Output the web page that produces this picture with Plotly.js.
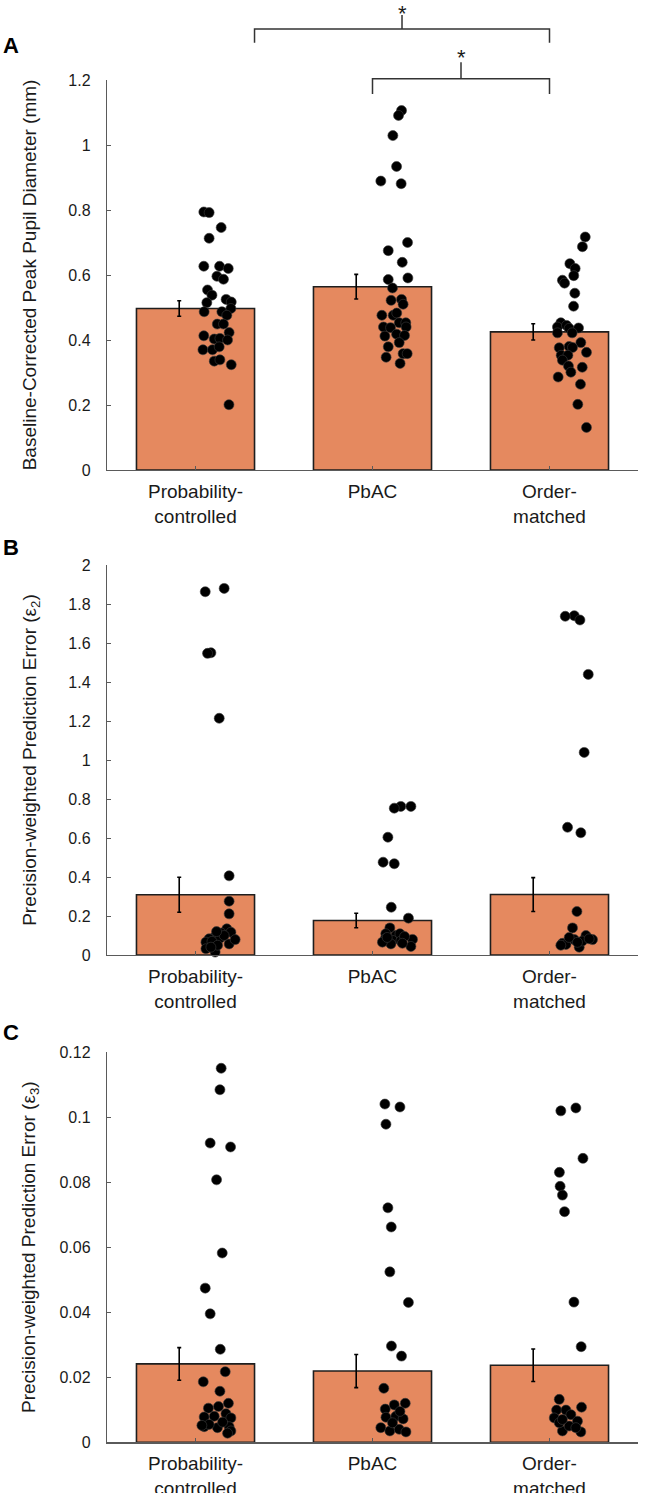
<!DOCTYPE html>
<html>
<head>
<meta charset="utf-8">
<script src="https://cdn.plot.ly/plotly-3.0.1.min.js"></script>
<style>
  html, body { margin: 0; padding: 0; background: #fff; }
  #chart { width: 646px; height: 1493px; }
</style>
</head>
<body>
<div id="chart"></div>
<script>
// ---- categories ----
const categories = ['Probability-<br>controlled', 'PbAC', 'Order-<br>matched'];

// ---- Panel A: baseline-corrected peak pupil diameter (mm) ----
const meanA = [0.497, 0.564, 0.425];
const semA  = [0.024, 0.038, 0.025];
const pupilProb  = [0.794, 0.792, 0.746, 0.713, 0.627, 0.627, 0.620, 0.596, 0.587, 0.554, 0.538, 0.515, 0.525, 0.517, 0.487, 0.487, 0.497, 0.476, 0.449, 0.449, 0.413, 0.403, 0.423, 0.405, 0.400, 0.370, 0.370, 0.379, 0.335, 0.339, 0.324, 0.201];
const pupilPbac  = [1.106, 1.091, 1.029, 0.934, 0.889, 0.881, 0.700, 0.675, 0.639, 0.591, 0.586, 0.560, 0.525, 0.522, 0.510, 0.476, 0.476, 0.483, 0.453, 0.453, 0.440, 0.438, 0.440, 0.412, 0.418, 0.414, 0.392, 0.379, 0.358, 0.358, 0.347, 0.328];
const pupilOrder = [0.717, 0.687, 0.635, 0.620, 0.598, 0.584, 0.575, 0.544, 0.504, 0.453, 0.440, 0.445, 0.436, 0.437, 0.422, 0.422, 0.392, 0.376, 0.380, 0.377, 0.362, 0.353, 0.353, 0.338, 0.320, 0.316, 0.301, 0.286, 0.264, 0.202, 0.131];

// ---- Panel B: precision-weighted prediction error (epsilon 2) ----
const meanB = [0.309, 0.177, 0.310];
const semB  = [0.090, 0.037, 0.087];
const eps2Prob  = [1.880, 1.863, 1.550, 1.547, 1.214, 0.406, 0.276, 0.211, 0.134, 0.117, 0.113, 0.091, 0.083, 0.066, 0.066, 0.057, 0.079, 0.032, 0.015, 0.086, 0.100, 0.070, 0.050, 0.040, 0.120];
const eps2Pbac  = [0.762, 0.762, 0.753, 0.604, 0.476, 0.468, 0.245, 0.189, 0.139, 0.109, 0.100, 0.109, 0.083, 0.075, 0.072, 0.080, 0.095, 0.057, 0.044, 0.066, 0.060, 0.090];
const eps2Order = [1.740, 1.737, 1.718, 1.439, 1.039, 0.655, 0.627, 0.223, 0.139, 0.060, 0.079, 0.040, 0.100, 0.079, 0.054, 0.072, 0.083, 0.090, 0.065, 0.050];

// ---- Panel C: precision-weighted prediction error (epsilon 3) ----
const meanC = [0.0241, 0.0219, 0.0237];
const semC  = [0.0050, 0.0051, 0.0050];
const eps3Prob  = [0.1150, 0.1084, 0.0920, 0.0908, 0.0807, 0.0582, 0.0474, 0.0395, 0.0286, 0.0217, 0.0186, 0.0157, 0.0105, 0.0110, 0.0120, 0.0078, 0.0080, 0.0088, 0.0075, 0.0048, 0.0045, 0.0048, 0.0035, 0.0055, 0.0028, 0.0062, 0.0052];
const eps3Pbac  = [0.1040, 0.1031, 0.0978, 0.0721, 0.0662, 0.0524, 0.0430, 0.0296, 0.0265, 0.0166, 0.0102, 0.0115, 0.0120, 0.0077, 0.0080, 0.0072, 0.0045, 0.0035, 0.0040, 0.0032, 0.0060, 0.0095];
const eps3Order = [0.1028, 0.1019, 0.0873, 0.0830, 0.0787, 0.0760, 0.0709, 0.0431, 0.0294, 0.0132, 0.0099, 0.0099, 0.0108, 0.0075, 0.0085, 0.0065, 0.0035, 0.0032, 0.0050, 0.0060, 0.0070, 0.0045];

// ---- horizontal scatter of each participant's dot, right of the bar centre (category units) ----
const jitPupilProb  = [0.047, 0.077, 0.145, 0.077, 0.047, 0.136, 0.185, 0.121, 0.158, 0.068, 0.093, 0.064, 0.173, 0.202, 0.049, 0.149, 0.200, 0.177, 0.123, 0.158, 0.047, 0.106, 0.190, 0.138, 0.181, 0.042, 0.096, 0.134, 0.106, 0.138, 0.202, 0.189];
const jitPupilPbac  = [0.164, 0.147, 0.115, 0.136, 0.047, 0.162, 0.198, 0.089, 0.168, 0.200, 0.089, 0.113, 0.164, 0.105, 0.173, 0.053, 0.117, 0.137, 0.151, 0.188, 0.062, 0.102, 0.190, 0.070, 0.136, 0.181, 0.151, 0.089, 0.173, 0.196, 0.077, 0.156];
const jitPupilOrder = [0.202, 0.186, 0.115, 0.145, 0.137, 0.073, 0.085, 0.143, 0.136, 0.064, 0.045, 0.096, 0.111, 0.164, 0.045, 0.128, 0.177, 0.055, 0.111, 0.130, 0.209, 0.066, 0.104, 0.073, 0.107, 0.185, 0.121, 0.049, 0.175, 0.160, 0.209];
const jitEps2Prob   = [0.162, 0.055, 0.087, 0.068, 0.134, 0.190, 0.190, 0.190, 0.177, 0.200, 0.145, 0.106, 0.077, 0.059, 0.115, 0.190, 0.224, 0.059, 0.111, 0.138, 0.162, 0.093, 0.125, 0.087, 0.119];
const jitEps2Pbac   = [0.160, 0.217, 0.123, 0.087, 0.060, 0.123, 0.106, 0.203, 0.098, 0.075, 0.132, 0.155, 0.072, 0.113, 0.160, 0.226, 0.181, 0.104, 0.217, 0.056, 0.169, 0.083];
const jitEps2Order  = [0.140, 0.089, 0.172, 0.219, 0.196, 0.102, 0.177, 0.155, 0.130, 0.073, 0.140, 0.168, 0.206, 0.243, 0.093, 0.186, 0.224, 0.111, 0.158, 0.064];
const jitEps3Prob   = [0.145, 0.138, 0.083, 0.198, 0.119, 0.151, 0.055, 0.083, 0.140, 0.168, 0.044, 0.138, 0.073, 0.130, 0.186, 0.049, 0.106, 0.172, 0.200, 0.049, 0.124, 0.190, 0.200, 0.077, 0.181, 0.153, 0.036];
const jitEps3Pbac   = [0.070, 0.155, 0.076, 0.087, 0.106, 0.098, 0.203, 0.107, 0.164, 0.064, 0.072, 0.123, 0.185, 0.076, 0.132, 0.173, 0.047, 0.098, 0.151, 0.189, 0.113, 0.155];
const jitEps3Order  = [0.149, 0.064, 0.189, 0.056, 0.060, 0.073, 0.085, 0.138, 0.179, 0.055, 0.040, 0.093, 0.181, 0.027, 0.121, 0.158, 0.073, 0.177, 0.111, 0.055, 0.073, 0.149];

// ---- styling ----
const W = 646, H = 1493;
const FONT = 'Liberation Sans, Arial, Helvetica, sans-serif';
const BAR_FILL = '#E5895F';
const BAR_EDGE = '#1e1e1e';
const AXIS_GREY = '#5a5a5a';
const TEXT = '#1a1a1a';
const BAR_W = 0.667;
const ERR_SHIFT = -0.092;   // error bars sit a little left of the bar centre

// pixel helpers for paper coordinates
const px2x = p => p / W;
const px2y = p => 1 - p / H;

function panelTraces(suffix, means, sems, groups, jitters) {
  const xa = 'x' + suffix, ya = 'y' + suffix;
  const idx = categories.map((_, i) => i);
  const traces = [];
  traces.push({
    type: 'bar', x: idx, y: means, width: BAR_W, xaxis: xa, yaxis: ya,
    marker: { color: BAR_FILL, line: { color: BAR_EDGE, width: 1.6 } },
    hoverinfo: 'skip'
  });
  traces.push({
    type: 'scatter', mode: 'markers', x: idx.map(i => i + ERR_SHIFT), y: means,
    xaxis: xa, yaxis: ya, marker: { size: 1, opacity: 0 },
    error_y: { type: 'data', array: sems, visible: true, color: '#000', thickness: 1.6, width: 2 },
    hoverinfo: 'skip'
  });
  groups.forEach((vals, g) => {
    traces.push({
      type: 'scatter', mode: 'markers', xaxis: xa, yaxis: ya,
      x: jitters[g].map(j => g + j), y: vals,
      marker: { size: 10, color: '#000', line: { color: '#3a3a3a', width: 0.6 } },
      cliponaxis: false, hoverinfo: 'skip'
    });
  });
  return traces;
}

const data = [].concat(
  panelTraces('',  meanA, semA, [pupilProb, pupilPbac, pupilOrder], [jitPupilProb, jitPupilPbac, jitPupilOrder]),
  panelTraces('2', meanB, semB, [eps2Prob, eps2Pbac, eps2Order],   [jitEps2Prob, jitEps2Pbac, jitEps2Order]),
  panelTraces('3', meanC, semC, [eps3Prob, eps3Pbac, eps3Order],   [jitEps3Prob, jitEps3Pbac, jitEps3Order])
);

const xDomain = [px2x(107), px2x(638)];

function xAxis(anchor) {
  return {
    domain: xDomain, anchor: anchor, range: [-0.5, 2.5],
    tickmode: 'array', tickvals: [0, 1, 2], ticktext: categories,
    ticks: 'inside', ticklen: 4, tickwidth: 1, tickcolor: AXIS_GREY,
    showline: true, linecolor: AXIS_GREY, linewidth: 1.2,
    showgrid: false, zeroline: false, fixedrange: true,
    ticklabelstandoff: 4,
    tickfont: { family: FONT, size: 19, color: TEXT }
  };
}
function yAxis(anchor, topPx, botPx, range, dtick, title, standoff) {
  return {
    domain: [px2y(botPx), px2y(topPx)], anchor: anchor, range: range,
    dtick: dtick, tick0: 0,
    ticks: 'inside', ticklen: 4, tickwidth: 1, tickcolor: AXIS_GREY,
    showline: true, linecolor: AXIS_GREY, linewidth: 1.2,
    showgrid: false, zeroline: false, fixedrange: true,
    ticklabelstandoff: 12,
    tickfont: { family: FONT, size: 16, color: TEXT },
    title: { text: title, standoff: standoff, font: { family: FONT, size: 19, color: TEXT } }
  };
}

// significance brackets above panel A
const bracketLine = { color: '#333', width: 1.5 };
const brackets = [
  { x0: 0 + BAR_W / 2, x1: 2, yBar: 29, yLeg: 42.7, yTop: 15, starY: 0, starAnchor: 'top' },
  { x0: 1, x1: 2, yBar: 78.7, yLeg: 94, yTop: 62.3, starY: 57.8, starAnchor: 'middle' }
];
const shapes = [];
const annotations = [];
brackets.forEach(b => {
  const mid = (b.x0 + b.x1) / 2;
  shapes.push({
    type: 'path', xref: 'x', yref: 'paper', line: bracketLine,
    path: `M ${b.x0} ${px2y(b.yLeg)} L ${b.x0} ${px2y(b.yBar)} L ${b.x1} ${px2y(b.yBar)} L ${b.x1} ${px2y(b.yLeg)}`
  });
  shapes.push({
    type: 'line', xref: 'x', yref: 'paper', line: bracketLine,
    x0: mid, x1: mid, y0: px2y(b.yBar), y1: px2y(b.yTop)
  });
  annotations.push({
    xref: 'x', yref: 'paper', x: mid, y: px2y(b.starY),
    xanchor: 'center', yanchor: b.starAnchor, showarrow: false, borderpad: 0,
    text: '*', font: { family: FONT, size: 22, color: TEXT }
  });
});

// panel letters
[['A', 45], ['B', 547.5], ['C', 1032.5]].forEach(([t, yc]) => {
  annotations.push({
    xref: 'paper', yref: 'paper', x: px2x(1), y: px2y(yc),
    xanchor: 'left', yanchor: 'middle', showarrow: false,
    text: '<b>' + t + '</b>', font: { family: FONT, size: 22, color: '#000' }
  });
});

const layout = {
  width: W, height: H,
  margin: { l: 0, r: 0, t: 0, b: 0, pad: 0 },
  paper_bgcolor: '#fff', plot_bgcolor: 'rgba(0,0,0,0)',
  showlegend: false, hovermode: false, bargap: 0,
  font: { family: FONT, color: TEXT },
  xaxis:  xAxis('y'),
  xaxis2: xAxis('y2'),
  xaxis3: xAxis('y3'),
  yaxis:  yAxis('x',  80,   470,   [0, 1.2],  0.2,  'Baseline-Corrected Peak Pupil Diameter (mm)', 26),
  yaxis2: yAxis('x2', 565,  955,   [0, 2],    0.2,  'Precision-weighted Prediction Error (\u03b5<sub>2</sub>)', 26),
  yaxis3: yAxis('x3', 1052, 1442.3,[0, 0.12], 0.02, 'Precision-weighted Prediction Error (\u03b5<sub>3</sub>)', 18),
  shapes: shapes,
  annotations: annotations
};

Plotly.newPlot('chart', data, layout, { staticPlot: true, displayModeBar: false });
</script>
</body>
</html>
